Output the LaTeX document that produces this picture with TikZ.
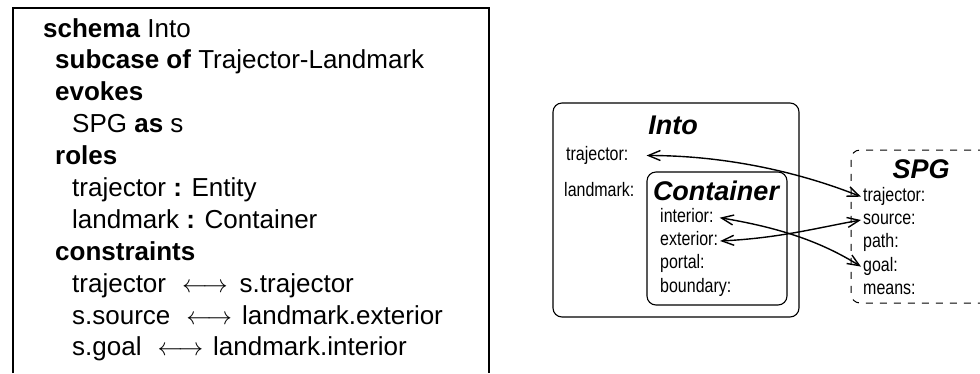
\documentclass[tikz,border=0pt]{standalone}
\usepackage{fontspec}
\setmainfont{Liberation Sans}
\newfontfamily\rolefont[FakeStretch=0.82]{Liberation Sans}
\usetikzlibrary{matrix,arrows.meta}

\begin{document}
\begin{tikzpicture}[x=1pt,y=1pt,
  line/.style={anchor=base west,inner sep=0pt,font=\fontsize{26}{30}\selectfont},
  role/.style={anchor=base west,inner sep=2pt,text height=13pt,text depth=4pt,
    font=\rolefont\fontsize{19.5}{22}\selectfont},
  title/.style={anchor=base,inner sep=0pt,font=\fontsize{27}{30}\selectfont\bfseries\itshape},
  frame/.style={draw,rounded corners=9pt,line width=1.1pt},
  link/.style={{Straight Barb[length=12pt,width=10pt]}-{Straight Barb[length=12pt,width=10pt]},
    line width=1.4pt}]
  \useasboundingbox (0,0) rectangle (980,-373);

  % schema text
  \draw[line width=2.5pt] (13,-373) |- (489,-8) -- (489,-373);
  \node[line] (sch) at (43,-37) {\textbf{schema} Into};
  \node[line] (sub) at (55,-68) {\textbf{subcase of} Trajector-Landmark};
  \node[line] (evk) at (55,-100) {\textbf{evokes}};
  \node[line] (spgas) at (72,-132) {SPG \textbf{as} s};
  \node[line] (rls) at (55,-164) {\textbf{roles}};
  \node[line] (rtraj) at (72,-196) {trajector \textbf{:} Entity};
  \node[line] (rland) at (72,-228) {landmark \textbf{:} Container};
  \node[line] (cns) at (55,-260) {\textbf{constraints}};
  \node[line] (ctraj) at (72,-292) {trajector\hspace{16pt}$\longleftrightarrow$\hspace{12pt}s.trajector};
  \node[line] (csrc) at (72,-324) {s.source\hspace{16pt}$\longleftrightarrow$\hspace{10pt}landmark.exterior};
  \node[line] (cgoal) at (72,-355) {s.goal\hspace{16pt}$\longleftrightarrow$\hspace{10pt}landmark.interior};

  % Into
  \draw[frame] (553,-103) rectangle (799,-317);
  \node[title] (into) at (673,-134) {Into};
  \node[role] (itraj) at (564,-160) {trajector:};
  \node[role] (iland) at (562,-196) {landmark:};

  % Container
  \draw[frame] (647,-172) rectangle (787,-305);
  \node[title] (cont) at (716,-200) {Container};
  \matrix (c) [matrix of nodes,anchor=north west,inner sep=0pt,row sep=2.3pt,
    nodes={role}] at (658,-207)
  {
    interior: \\ exterior: \\ portal: \\ boundary: \\};

  % SPG
  \draw[frame,line width=1pt,dash pattern=on 7pt off 7pt] (985,-150) -| (851,-303) -- (985,-303);
  \node[title] (spg) at (921,-178) {SPG};
  \matrix (s) [matrix of nodes,anchor=north west,inner sep=0pt,row sep=2.3pt,
    nodes={role}] at (861,-186)
  {
    trajector: \\ source: \\ path: \\ goal: \\ means: \\};

  % bindings
  \draw[link] ([xshift=16pt]itraj.east) .. controls +(85,0) and +(-55,22) .. (s-1-1.west);
  \draw[link] (c-2-1.east) .. controls +(60,3) and +(-45,-8) .. (s-2-1.west);
  \draw[link] ([xshift=4pt]c-1-1.east) .. controls +(60,-10) and +(-40,25) .. (s-4-1.west);
\end{tikzpicture}
\end{document}
